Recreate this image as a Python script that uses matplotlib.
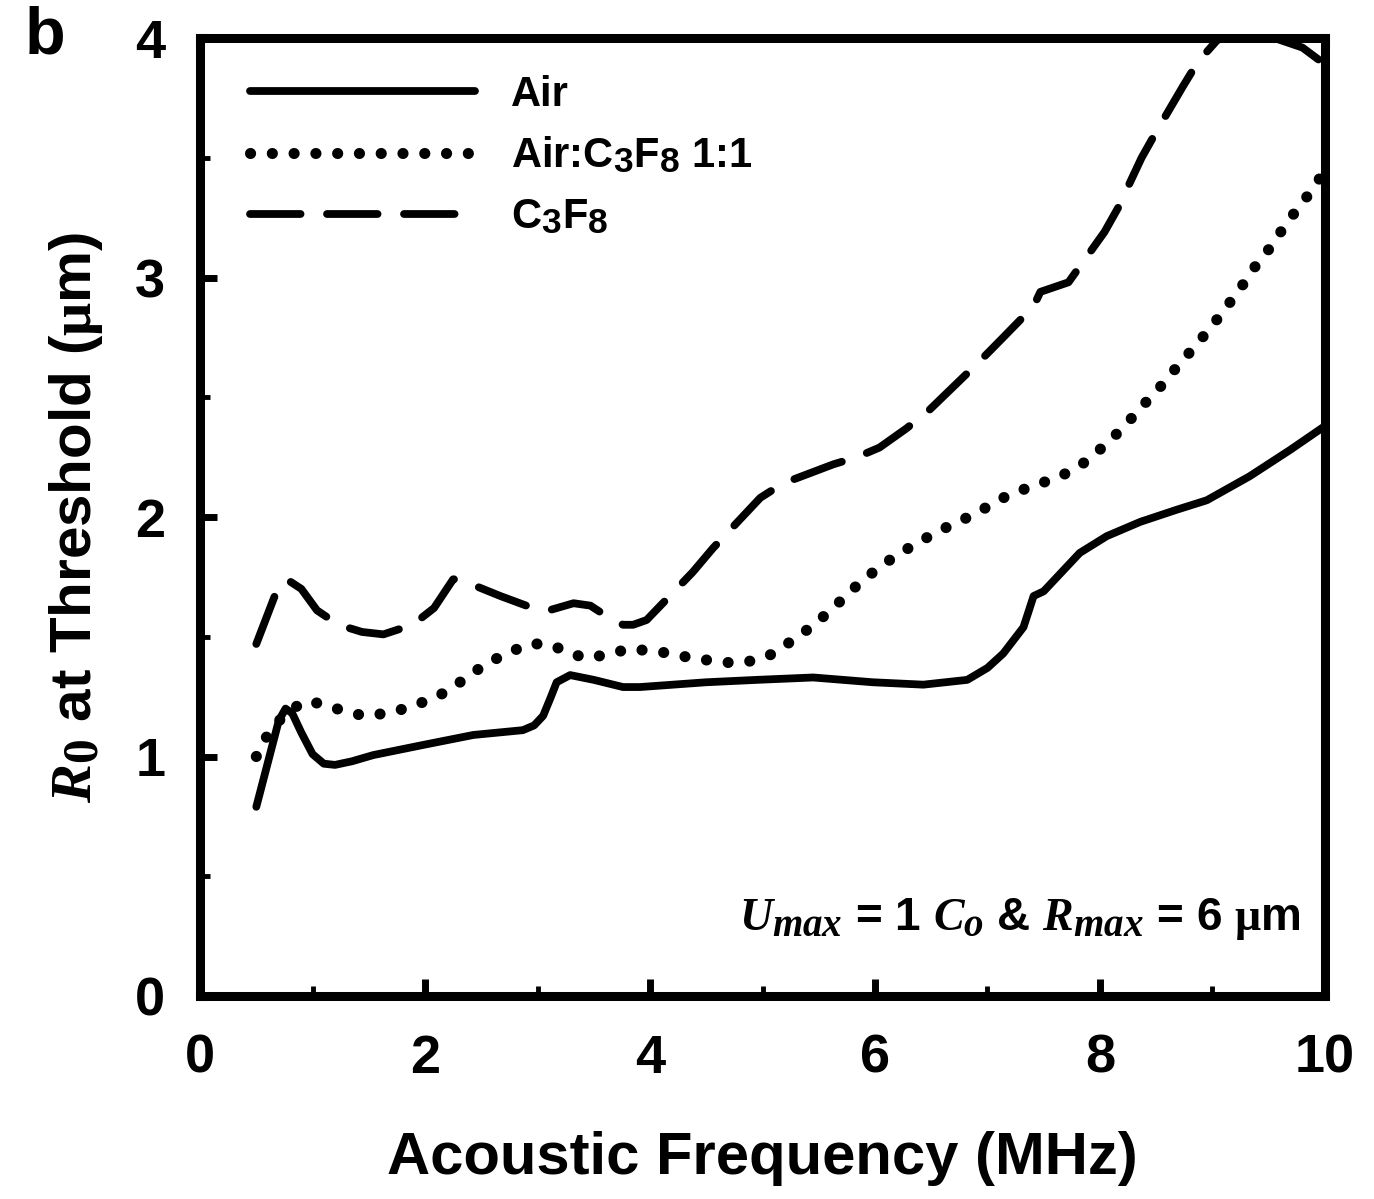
import matplotlib
matplotlib.use('Agg')
import matplotlib.pyplot as plt
import matplotlib._mathtext as mt
from matplotlib.ticker import MultipleLocator

plt.rcParams['font.family'] = ['Liberation Sans', 'DejaVu Sans']
plt.rcParams['font.weight'] = 'bold'
plt.rcParams['mathtext.fontset'] = 'custom'
plt.rcParams['mathtext.rm'] = 'Liberation Serif'
plt.rcParams['mathtext.it'] = 'Liberation Serif:italic'
plt.rcParams['mathtext.bf'] = 'Liberation Sans:bold'
plt.rcParams['mathtext.bfit'] = 'Liberation Serif:italic:bold'
# subscripts in the original are almost full size
mt.SHRINK_FACTOR = 0.85

# Air (solid)
air_f = [0.5, 0.6, 0.7, 0.76, 0.82, 0.9, 1.0, 1.1, 1.2, 1.35, 1.54, 1.98, 2.43,
         2.87, 2.97, 3.05, 3.12, 3.17, 3.29, 3.5, 3.76, 3.91, 4.5, 4.95, 5.45,
         5.98, 6.43, 6.82, 7.0, 7.14, 7.32, 7.41, 7.5, 7.62, 7.82, 8.06, 8.36,
         8.68, 8.95, 9.33, 9.69, 10.0]
air_r = [0.79, 0.97, 1.15, 1.20, 1.18, 1.10, 1.01, 0.97, 0.965, 0.98, 1.006, 1.048, 1.09,
         1.11, 1.13, 1.17, 1.25, 1.31, 1.34, 1.32, 1.29, 1.29, 1.31, 1.32, 1.33,
         1.31, 1.30, 1.32, 1.37, 1.43, 1.54, 1.67, 1.69, 1.75, 1.85, 1.92, 1.98,
         2.03, 2.07, 2.17, 2.28, 2.38]

# Air:C3F8 1:1 (dotted)
mix_f = [0.5, 0.6, 0.74, 0.92, 1.1, 1.27, 1.46, 1.65, 1.82, 2.0, 2.19, 2.37, 2.55,
         2.73, 2.92, 3.09, 3.2, 3.28, 3.46, 3.64, 3.83, 4.01, 4.2, 4.37, 4.56,
         4.74, 4.92, 5.1, 5.28, 5.46, 5.65, 5.83, 6.01, 6.19, 6.37, 6.56, 6.74,
         6.92, 7.09, 7.29, 7.47, 7.65, 7.84, 8.02, 8.2, 8.37, 8.53, 8.69, 8.84,
         9.0, 9.13, 9.27, 9.4, 9.54, 9.66, 9.8, 9.93, 10.0]
mix_r = [1.0, 1.09, 1.17, 1.23, 1.22, 1.19, 1.17, 1.18, 1.20, 1.23, 1.27, 1.33, 1.39,
         1.43, 1.47, 1.47, 1.45, 1.43, 1.41, 1.43, 1.45, 1.44, 1.43, 1.41, 1.40,
         1.39, 1.40, 1.43, 1.49, 1.55, 1.63, 1.71, 1.78, 1.84, 1.89, 1.94, 1.98,
         2.02, 2.07, 2.11, 2.14, 2.17, 2.22, 2.29, 2.37, 2.46, 2.54, 2.63, 2.71,
         2.80, 2.88, 2.97, 3.06, 3.14, 3.23, 3.31, 3.40, 3.44]

# C3F8 (dashed)
c3f8_f = [0.5, 0.68, 0.77, 0.9, 1.04, 1.23, 1.44, 1.63, 1.89, 2.08, 2.25, 2.31,
          2.46, 2.67, 2.9, 3.1, 3.32, 3.47, 3.6, 3.76, 3.85, 3.97, 4.38, 4.56,
          4.98, 5.18, 5.63, 5.84, 6.04, 6.28, 6.49, 6.93, 7.14, 7.41, 7.47, 7.72,
          8.04, 8.16, 8.37, 8.49, 8.74, 8.87, 9.04, 9.3, 9.55, 9.8, 10.0]
c3f8_r = [1.47, 1.69, 1.74, 1.70, 1.61, 1.55, 1.52, 1.51, 1.55, 1.62, 1.74, 1.74,
          1.71, 1.67, 1.63, 1.61, 1.64, 1.63, 1.59, 1.55, 1.55, 1.57, 1.77, 1.87,
          2.08, 2.14, 2.22, 2.25, 2.29, 2.37, 2.45, 2.65, 2.75, 2.88, 2.94, 2.98,
          3.19, 3.29, 3.50, 3.60, 3.80, 3.90, 3.99, 4.05, 4.00, 3.96, 3.89]

fig = plt.figure(figsize=(13.74, 11.99), dpi=100)
ax = fig.add_axes([0.1456, 0.1693, 0.8187, 0.7990])

ax.plot(air_f, air_r, color='black', lw=5.6, solid_capstyle='round',
        solid_joinstyle='round', label='Air')
ax.plot(mix_f, mix_r, color='black', lw=8.0, linestyle=(0, (0.01, 1.95)),
        dash_capstyle='round', label=r'Air:C$_\mathbf{3}$F$_\mathbf{8}$ 1:1')
ax.plot(c3f8_f, c3f8_r, color='black', lw=5.6, linestyle=(0, (6.5, 3.4)),
        dash_capstyle='round', label=r'C$_\mathbf{3}$F$_\mathbf{8}$')

ax.set_xlim(0, 10)
ax.set_ylim(0, 4)
ax.xaxis.set_major_locator(MultipleLocator(2))
ax.xaxis.set_minor_locator(MultipleLocator(1))
ax.yaxis.set_major_locator(MultipleLocator(1))
ax.yaxis.set_minor_locator(MultipleLocator(0.5))
ax.tick_params(which='both', direction='in', top=False, right=False)
ax.tick_params(which='major', length=12, width=5, labelsize=39)
ax.tick_params(which='minor', length=7.5, width=3.5)
ax.tick_params(axis='x', which='major', pad=27)
ax.tick_params(axis='y', which='major', pad=25)
for s in ax.spines.values():
    s.set_linewidth(6.5)

ax.set_xlabel('Acoustic Frequency (MHz)', fontsize=43, fontweight='bold', labelpad=34)
ax.set_ylabel(r'$\mathbfit{R}_\mathrm{0}$ at Threshold ($\mathrm{\mu}$m)',
              fontsize=42, fontweight='bold', labelpad=22)

ax.legend(loc='upper left', frameon=False, fontsize=30, handlelength=5.4,
          handletextpad=0.85, labelspacing=0.5, borderaxespad=0.0,
          bbox_to_anchor=(0.030, 0.979))

ax.text(0.978, 0.069, r'$U_{max}$ = 1 $C_o$ & $R_{max}$ = 6 $\mathrm{\mu}$m',
        transform=ax.transAxes, ha='right', va='baseline', fontsize=33,
        fontweight='bold')

fig.text(0.033, 0.995, 'b', fontsize=48, fontweight='bold', ha='center', va='top')

fig.savefig('out.png', dpi=100)
